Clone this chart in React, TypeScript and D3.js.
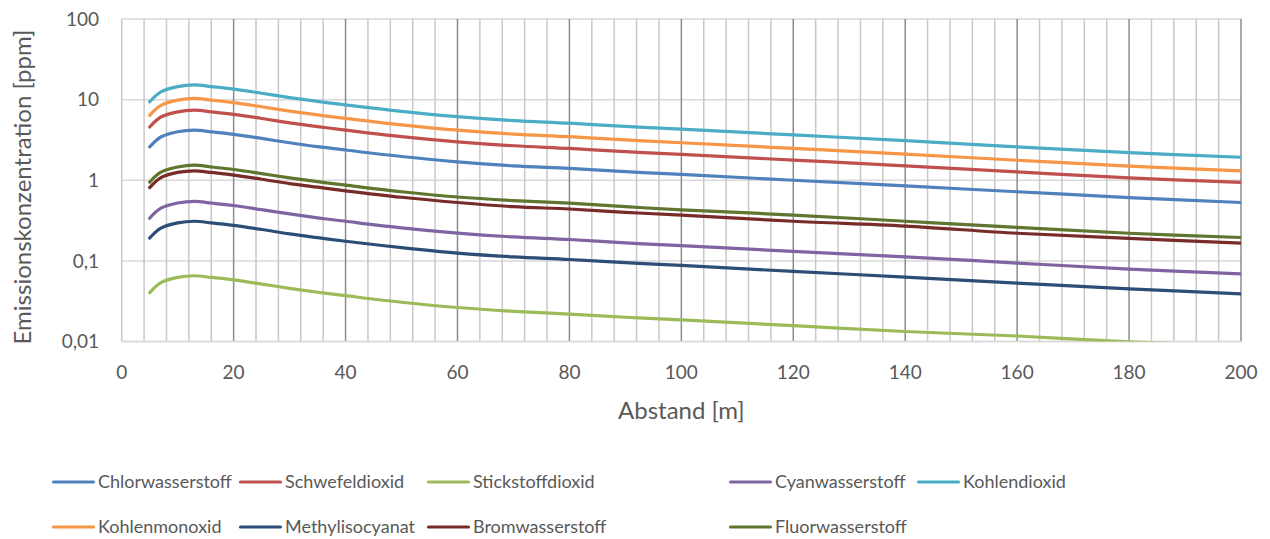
import React, { useEffect, useRef } from 'react';
import * as d3 from 'd3';

// Abstand [m]
const distances = [5, 7, 10, 13, 16, 20, 25, 30, 35, 40, 50, 60, 70, 80, 90, 100, 120, 140, 160, 180, 200];

const chlorwasserstoff = [2.59, 3.44, 3.99, 4.18, 3.99, 3.71, 3.3, 2.92, 2.61, 2.37, 1.97, 1.69, 1.51, 1.4, 1.28, 1.18, 1.0, 0.85, 0.72, 0.61, 0.53];
const schwefeldioxid = [4.58, 6.09, 7.06, 7.4, 7.06, 6.57, 5.84, 5.16, 4.63, 4.19, 3.48, 3.0, 2.68, 2.48, 2.26, 2.09, 1.78, 1.51, 1.27, 1.07, 0.94];
const stickstoffdioxid = [0.0404, 0.0538, 0.0624, 0.0654, 0.0624, 0.058, 0.0516, 0.0456, 0.0408, 0.037, 0.0307, 0.0264, 0.0237, 0.0219, 0.02, 0.0185, 0.0157, 0.0133, 0.0117, 0.0099, 0.0088];
const cyanwasserstoff = [0.338, 0.45, 0.522, 0.547, 0.522, 0.486, 0.432, 0.382, 0.342, 0.31, 0.257, 0.221, 0.198, 0.184, 0.167, 0.155, 0.131, 0.112, 0.094, 0.079, 0.069];
const kohlendioxid = [9.4, 12.5, 14.5, 15.2, 14.5, 13.5, 12.0, 10.6, 9.5, 8.6, 7.15, 6.15, 5.5, 5.1, 4.65, 4.3, 3.65, 3.1, 2.6, 2.2, 1.93];
const kohlenmonoxid = [6.39, 8.5, 9.86, 10.34, 9.86, 9.18, 8.16, 7.21, 6.46, 5.85, 4.86, 4.18, 3.74, 3.47, 3.16, 2.92, 2.48, 2.11, 1.77, 1.5, 1.31];
const methylisocyanat = [0.192, 0.255, 0.296, 0.31, 0.296, 0.275, 0.245, 0.216, 0.194, 0.175, 0.146, 0.125, 0.112, 0.104, 0.095, 0.088, 0.074, 0.063, 0.053, 0.045, 0.039];
const bromwasserstoff = [0.81, 1.08, 1.25, 1.31, 1.25, 1.16, 1.03, 0.91, 0.82, 0.74, 0.615, 0.53, 0.47, 0.44, 0.4, 0.37, 0.31, 0.27, 0.22, 0.19, 0.166];
const fluorwasserstoff = [0.95, 1.26, 1.46, 1.54, 1.46, 1.36, 1.21, 1.07, 0.96, 0.87, 0.72, 0.62, 0.56, 0.52, 0.47, 0.43, 0.37, 0.31, 0.26, 0.22, 0.195];

const seriesNames = [
  'Chlorwasserstoff', 'Schwefeldioxid', 'Stickstoffdioxid', 'Cyanwasserstoff', 'Kohlendioxid',
  'Kohlenmonoxid', 'Methylisocyanat', 'Bromwasserstoff', 'Fluorwasserstoff',
];
const seriesValues = [
  chlorwasserstoff, schwefeldioxid, stickstoffdioxid, cyanwasserstoff, kohlendioxid,
  kohlenmonoxid, methylisocyanat, bromwasserstoff, fluorwasserstoff,
];
const seriesColors = ['#4f81bd', '#c0504d', '#9bbb59', '#8064a2', '#4bacc6', '#f79646', '#2c4d75', '#772c2a', '#5f7530'];

const yTicks = [0.01, 0.1, 1, 10, 100];
const yTickLabels = ['0,01', '0,1', '1', '10', '100'];
const xTicks = [0, 20, 40, 60, 80, 100, 120, 140, 160, 180, 200];

const FONT = 'Lato, "Open Sans", sans-serif';
const TEXT = '#595959';

const App: React.FC = () => {
  const svgRef = useRef<SVGSVGElement>(null);

  useEffect(() => {
    if (!svgRef.current) return;
    d3.select(svgRef.current).selectAll('*').remove();

    const width = 1270;
    const height = 539;
    const plot = { left: 121.7, right: 1241, top: 19, bottom: 341.5 };

    const svg = d3.select(svgRef.current)
      .attr('width', width)
      .attr('height', height)
      .attr('viewBox', `0 0 ${width} ${height}`)
      .style('font-family', FONT);

    const x = d3.scaleLinear().domain([0, 200]).range([plot.left, plot.right]);
    const y = d3.scaleLog().domain([0.01, 100]).range([plot.bottom, plot.top]);

    // horizontal gridlines
    svg.append('g')
      .selectAll('line')
      .data(yTicks)
      .enter()
      .append('line')
      .attr('x1', plot.left)
      .attr('x2', plot.right)
      .attr('y1', d => y(d))
      .attr('y2', d => y(d))
      .attr('stroke', '#d9d9d9')
      .attr('stroke-width', 1.5);

    // vertical gridlines: minor every 4, major every 20
    const vLines = d3.range(0, 201, 4);
    svg.append('g')
      .selectAll('line')
      .data(vLines)
      .enter()
      .append('line')
      .attr('x1', d => x(d))
      .attr('x2', d => x(d))
      .attr('y1', plot.top)
      .attr('y2', plot.bottom)
      .attr('stroke', d => (d > 0 && d % 20 === 0 ? '#8c8c8c' : '#c8c8c8'))
      .attr('stroke-width', 1.5);

    // bottom axis line
    svg.append('line')
      .attr('x1', plot.left)
      .attr('x2', plot.right)
      .attr('y1', plot.bottom)
      .attr('y2', plot.bottom)
      .attr('stroke', '#d9d9d9')
      .attr('stroke-width', 1.5);

    // y tick labels
    svg.append('g')
      .selectAll('text')
      .data(yTicks)
      .enter()
      .append('text')
      .attr('x', 99)
      .attr('y', d => y(d))
      .attr('dy', '0.35em')
      .attr('text-anchor', 'end')
      .attr('font-size', 19)
      .attr('fill', TEXT)
      .text((d, i) => yTickLabels[i]);

    // x tick labels
    svg.append('g')
      .selectAll('text')
      .data(xTicks)
      .enter()
      .append('text')
      .attr('x', d => x(d))
      .attr('y', 372.5)
      .attr('dy', '0.35em')
      .attr('text-anchor', 'middle')
      .attr('font-size', 19)
      .attr('fill', TEXT)
      .text(d => String(d));

    // axis titles
    svg.append('text')
      .attr('x', (plot.left + plot.right) / 2)
      .attr('y', 411)
      .attr('dy', '0.35em')
      .attr('text-anchor', 'middle')
      .attr('font-size', 24)
      .attr('fill', TEXT)
      .text('Abstand [m]');

    svg.append('text')
      .attr('transform', 'translate(23,187) rotate(-90)')
      .attr('dy', '0.35em')
      .attr('text-anchor', 'middle')
      .attr('font-size', 24)
      .attr('fill', TEXT)
      .text('Emissionskonzentration [ppm]');

    // clip for values under 0,01
    svg.append('clipPath')
      .attr('id', 'plot-clip')
      .append('rect')
      .attr('x', plot.left)
      .attr('y', plot.top)
      .attr('width', plot.right - plot.left)
      .attr('height', plot.bottom - plot.top);

    const line = d3.line<number>()
      .x((d, i) => x(distances[i]))
      .y(d => y(d))
      .curve(d3.curveCatmullRom.alpha(0.5));

    svg.append('g')
      .attr('clip-path', 'url(#plot-clip)')
      .selectAll('path')
      .data(seriesValues)
      .enter()
      .append('path')
      .attr('d', d => line(d))
      .attr('fill', 'none')
      .attr('stroke', (d, i) => seriesColors[i])
      .attr('stroke-width', 3.2)
      .attr('stroke-linecap', 'round')
      .attr('stroke-linejoin', 'round');

    // legend
    const legendCols = [52, 239, 427, 729, 917];
    const legendRows = [482, 527];
    const legend = svg.append('g')
      .selectAll('g')
      .data(seriesNames)
      .enter()
      .append('g')
      .attr('transform', (d, i) => `translate(${legendCols[i % 5]},${legendRows[Math.floor(i / 5)]})`);

    legend.append('line')
      .attr('x1', 1.5)
      .attr('x2', 41.5)
      .attr('stroke', (d, i) => seriesColors[i])
      .attr('stroke-width', 3.2)
      .attr('stroke-linecap', 'round');

    legend.append('text')
      .attr('x', 46)
      .attr('dy', '0.35em')
      .attr('font-size', 18)
      .attr('fill', TEXT)
      .text(d => d);
  }, []);

  return <svg ref={svgRef} style={{ display: 'block', position: 'absolute', left: 0, top: 0 }}></svg>;
};

export default App;
